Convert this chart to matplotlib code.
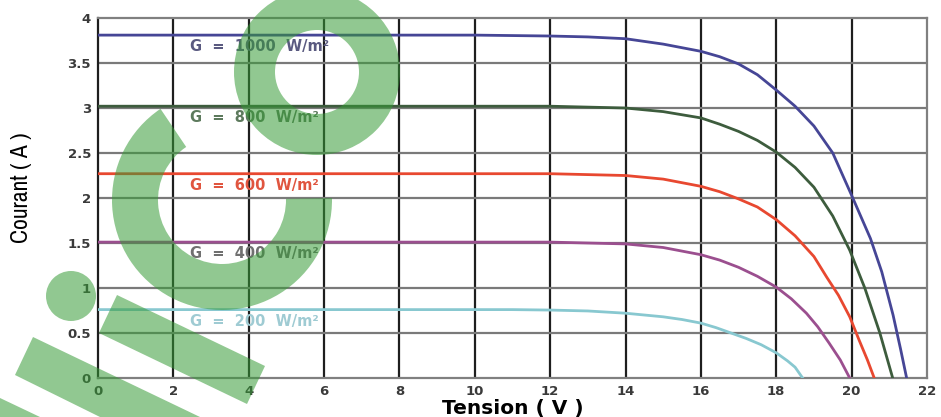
import numpy as np
import matplotlib
matplotlib.use('Agg')
import matplotlib.pyplot as plt
from matplotlib import font_manager
from matplotlib.patches import Wedge, Circle, Polygon

# I-V curves of the PV module for several irradiance levels
irradiance = [1000, 800, 600, 400, 200]

v_1000 = [0, 10, 12, 13, 14, 15, 16, 16.5, 17, 17.5, 18, 18.5, 19, 19.5, 20, 20.5, 20.8, 21.1, 21.3, 21.46]
i_1000 = [3.81, 3.81, 3.80, 3.79, 3.77, 3.71, 3.63, 3.57, 3.49, 3.37, 3.20, 3.02, 2.80, 2.50, 2.03, 1.55, 1.18, 0.70, 0.32, 0]

v_800 = [0, 12, 13, 14, 15, 16, 16.5, 17, 17.5, 18, 18.5, 19, 19.5, 19.95, 20.35, 20.75, 21.09]
i_800 = [3.02, 3.02, 3.01, 3.00, 2.96, 2.89, 2.82, 2.74, 2.64, 2.51, 2.34, 2.12, 1.80, 1.42, 1.00, 0.50, 0]

v_600 = [0, 12, 13, 14, 15, 16, 16.5, 17, 17.5, 18, 18.5, 19, 19.34, 19.65, 19.95, 20.2, 20.42, 20.6]
i_600 = [2.27, 2.27, 2.26, 2.25, 2.21, 2.13, 2.07, 1.99, 1.90, 1.76, 1.58, 1.35, 1.12, 0.92, 0.68, 0.42, 0.20, 0]

v_400 = [0, 12, 13, 14, 15, 16, 16.5, 17, 17.5, 18, 18.4, 18.8, 19.1, 19.4, 19.7, 19.95]
i_400 = [1.51, 1.51, 1.50, 1.49, 1.45, 1.37, 1.31, 1.23, 1.13, 1.01, 0.88, 0.72, 0.57, 0.39, 0.20, 0]

v_200 = [0, 11, 12, 13, 14, 15, 15.5, 16, 16.4, 16.8, 17.2, 17.6, 18, 18.3, 18.5, 18.7]
i_200 = [0.76, 0.76, 0.755, 0.745, 0.72, 0.68, 0.65, 0.61, 0.56, 0.50, 0.44, 0.37, 0.28, 0.19, 0.12, 0]

curves_v = [v_1000, v_800, v_600, v_400, v_200]
curves_i = [i_1000, i_800, i_600, i_400, i_200]
line_colors = ['#464696', '#3d5c3d', '#e84830', '#9b4f8f', '#88c8d0']
label_colors = ['#5a5a80', '#5d7a5d', '#e0553f', '#707070', '#9fcbd3']

x_ticks = [0, 2, 4, 6, 8, 10, 12, 14, 16, 18, 20, 22]
y_ticks = [0, 0.5, 1, 1.5, 2, 2.5, 3, 3.5, 4]
y_ticklabels = ['0', '0.5', '1', '1.5', '2', '2.5', '3', '3.5', '4']

# narrow face for the current axis title, if one is installed
narrow = 'DejaVu Sans'
names = sorted(set(f.name for f in font_manager.fontManager.ttflist))
for n in names:
    if 'Narrow' in n or 'Condensed' in n:
        narrow = n
        break

fig = plt.figure(figsize=(9.41, 4.17), dpi=100)
ax = fig.add_axes([0.1041, 0.0935, 0.8810, 0.8633])

# grid: dark verticals, grey horizontals
for xv in x_ticks[1:-1]:
    ax.axvline(xv, color='#1e1e1e', lw=1.6, zorder=1)
for yv in y_ticks[1:-1]:
    ax.axhline(yv, color='#7a7a7a', lw=1.6, zorder=1)

for k in range(len(irradiance)):
    ax.plot(curves_v[k], curves_i[k], color=line_colors[k], lw=2.0, zorder=3,
            solid_joinstyle='round')
    ax.text(2.45, curves_i[k][0] - 0.13, 'G  =  %d  W/m²' % irradiance[k],
            color=label_colors[k], fontsize=10.5, fontweight='bold',
            family='DejaVu Sans', va='center', ha='left', zorder=4)

ax.set_xlim(0, 22)
ax.set_ylim(0, 4)
ax.set_xticks(x_ticks)
ax.set_yticks(y_ticks)
ax.set_yticklabels(y_ticklabels)
ax.tick_params(length=0, labelsize=9.5, labelcolor='#3a3a3a', pad=5)
for lab in ax.get_xticklabels() + ax.get_yticklabels():
    lab.set_fontweight('bold')

for side in ['top', 'right', 'bottom']:
    ax.spines[side].set_color('#808080')
    ax.spines[side].set_linewidth(1.6)
ax.spines['left'].set_color('#1e1e1e')
ax.spines['left'].set_linewidth(1.6)

ax.set_xlabel('Tension ( V )', fontsize=14.5, fontweight='bold')
ax.xaxis.set_label_coords(0.5, -0.084)
ax.xaxis.label.set_va('center')
ax.set_ylabel('Courant ( A )', fontsize=17, family=narrow)
ax.yaxis.set_label_coords(-0.08, 0.53)

# green logo stamped over the figure
wm = fig.add_axes([0, 0, 1, 1], zorder=10)
wm.set_xlim(0, 941)
wm.set_ylim(417, 0)
wm.axis('off')
wm.patch.set_alpha(0)
green = '#379b37'
wm.add_patch(Wedge((222, 200), 110, -1, 236, width=46, color=green, alpha=0.55, lw=0))
wm.add_patch(Wedge((317, 72), 83, 0, 360, width=41, color=green, alpha=0.55, lw=0))
wm.add_patch(Circle((71, 296), 25, color=green, alpha=0.55, lw=0))
wm.add_patch(Polygon([(117, 295), (265, 366), (247, 404), (99, 333)],
                     color=green, alpha=0.55, lw=0))
wm.add_patch(Polygon([(33, 337), (200, 417), (100, 417), (15, 375)],
                     color=green, alpha=0.55, lw=0))
wm.add_patch(Polygon([(0, 398), (40, 417), (0, 417)], color=green, alpha=0.55, lw=0))

fig.savefig('out.png', dpi=100)
